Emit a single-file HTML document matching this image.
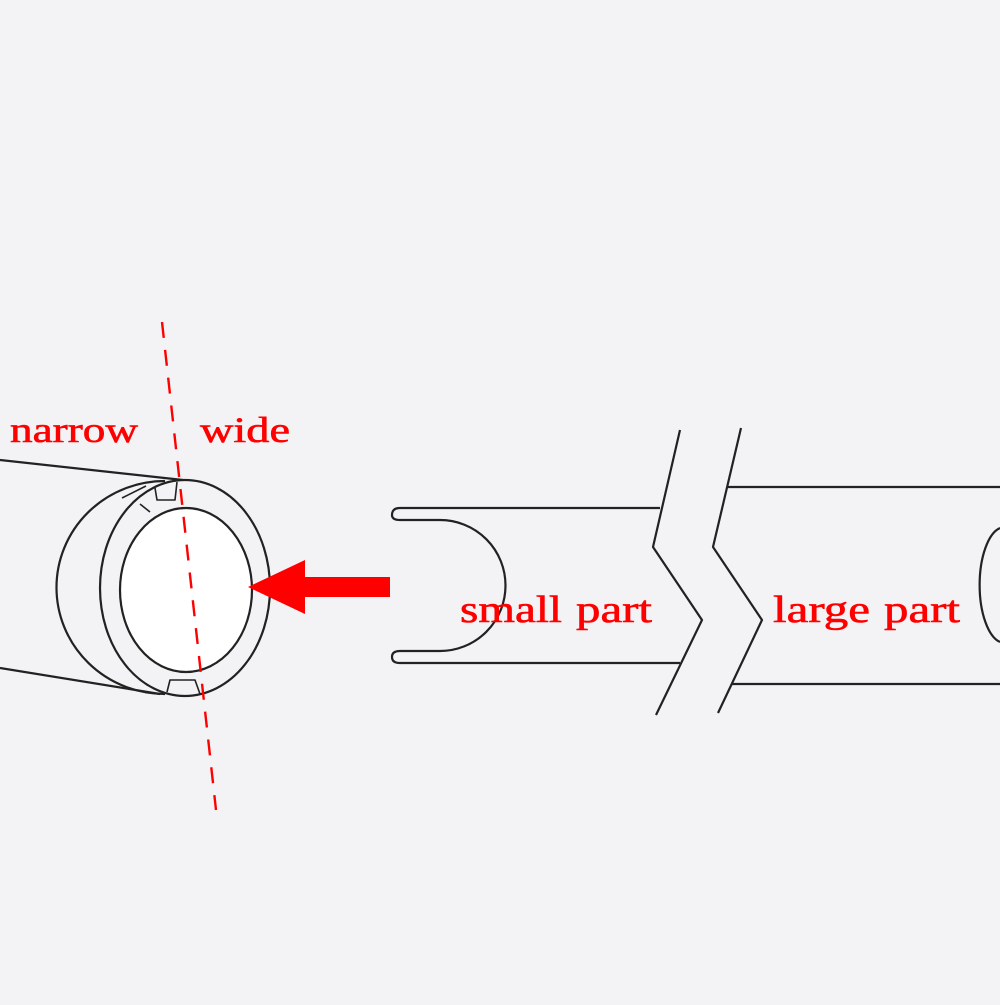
<!DOCTYPE html>
<html><head><style>html,body{margin:0;padding:0;background:#f3f3f5;}</style></head>
<body>
<svg width="1000" height="1000" viewBox="0 0 1000 1000" xmlns="http://www.w3.org/2000/svg">
<rect width="1000" height="1000" fill="#f3f3f5"/>
<g fill="none" stroke="#222" stroke-width="2.2" stroke-linejoin="round">
  <line x1="0" y1="460" x2="183" y2="480"/>
  <line x1="0" y1="668" x2="160" y2="694"/>
  <path d="M165 481 A108 106 0 0 0 165 694"/>
  <ellipse cx="185" cy="588" rx="85" ry="108"/>
  <ellipse cx="186" cy="590" rx="66" ry="82" fill="#fff"/>
  <path d="M155 488 L157 500 L175 500 L177 482" stroke-width="1.6"/>
  <path d="M122 498 L146 486 M140 504 L150 512" stroke-width="1.6"/>
  <path d="M167 692 L170 680 L195 680 L200 694" stroke-width="1.6"/>
  <path d="M660 508 L400 508 Q392 508 392 515 Q392 520 400 520 L440 520 A65.5 65.5 0 0 1 440 651 L400 651 Q392 651 392 657 Q392 663 400 663 L680 663"/>
  <polyline points="680,430 653,547 702,620 656,715"/>
  <polyline points="741,428 713,547 762,620 718,713"/>
  <line x1="727" y1="487" x2="1000" y2="487"/>
  <line x1="732" y1="684" x2="1000" y2="684"/>
  <path d="M1000 528 A25 58 0 0 0 1000 642"/>
</g>
<line x1="162" y1="322" x2="216" y2="810" stroke="#f00" stroke-width="2.4" stroke-dasharray="16 12"/>
<polygon points="248,587 305,560 305,577 390,577 390,597 305,597 305,614" fill="#f00"/>
<g fill="#f00" font-family="Liberation Serif, serif" font-size="38" stroke="#f00" stroke-width="0.6">
  <text x="10" y="442" textLength="128" lengthAdjust="spacingAndGlyphs" font-size="36">narrow</text>
  <text x="200" y="442" textLength="90" lengthAdjust="spacingAndGlyphs" font-size="36">wide</text>
  <text x="460" y="622" textLength="102" lengthAdjust="spacingAndGlyphs">small</text>
  <text x="576" y="622" textLength="76" lengthAdjust="spacingAndGlyphs">part</text>
  <text x="773" y="622" textLength="97" lengthAdjust="spacingAndGlyphs">large</text>
  <text x="884" y="622" textLength="76" lengthAdjust="spacingAndGlyphs">part</text>
</g>
</svg>
</body></html>
